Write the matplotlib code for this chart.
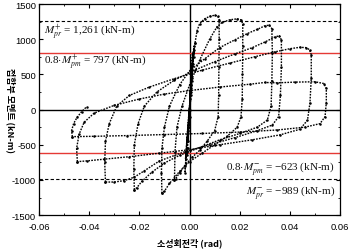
import matplotlib
matplotlib.use("Agg")
import matplotlib.pyplot as plt
from matplotlib.ticker import MultipleLocator

plt.rcParams['axes.unicode_minus'] = False
plt.rcParams['mathtext.fontset'] = 'stix'

# Reference moment levels (kN-m)
M_PR_POS = 1261
M_PM_POS = 797
M_PM_NEG = -623
M_PR_NEG = -989

# Hysteresis path, split into cycles
# small elastic cycles (dense band at zero rotation)
cyc0_rot = [0, 0.0003, 0.0006, 0.0002, -0.0003, -0.0006, -0.0002, 0.0004, 0.0009, 0.0012,
            0.0006, -0.0002, -0.0008, -0.0011, -0.0004, 0.0006, 0.0014, 0.0018, 0.0010, 0.0,
            -0.0010, -0.0016, -0.0008, 0.0004, 0.0012, 0.0017, 0.0008, -0.0004, -0.0012,
            -0.0018, -0.0010, 0.0004, 0.0016, 0.0022]
cyc0_mom = [0, 250, 450, 150, -250, -450, -150, 300, 650, 800,
            350, -150, -550, -650, -200, 350, 800, 900, 450, -100,
            -550, -700, -300, 250, 650, 850, 400, -200, -600,
            -900, -400, 200, 750, 950]

cyc1_rot = [0.0022, 0.003, 0.004, 0.006, 0.008, 0.010, 0.0112, 0.0118, 0.0118, 0.0117, 0.0116,
            0.0114, 0.010, 0.007, 0.004, 0.001, -0.002, -0.004, -0.0055, -0.006]
cyc1_mom = [950, 1120, 1220, 1290, 1325, 1340, 1330, 1280, 1000, 600, 200,
            -100, -300, -450, -580, -680, -800, -900, -980, -1000]

cyc2_rot = [-0.006, -0.0058, -0.005, -0.003, 0.0, 0.004, 0.008, 0.011, 0.013, 0.016, 0.019,
            0.0205, 0.0212, 0.0212, 0.0211, 0.021, 0.0205, 0.019, 0.015, 0.010, 0.005, 0.0,
            -0.004, -0.008, -0.010, -0.011]
cyc2_mom = [-1000, -600, -250, 50, 350, 700, 1000, 1180, 1240, 1275, 1290,
            1275, 1220, 900, 500, 150, -100, -250, -380, -500, -620, -740,
            -880, -1050, -1160, -1190]

cyc3_rot = [-0.011, -0.0112, -0.011, -0.010, -0.008, -0.004, 0.0, 0.006, 0.012, 0.018, 0.023,
            0.027, 0.030, 0.0318, 0.0328, 0.033, 0.0328, 0.0325, 0.031, 0.027, 0.020, 0.012,
            0.004, -0.004, -0.010, -0.015, -0.019, -0.021, -0.022]
cyc3_mom = [-1190, -900, -550, -250, 50, 350, 550, 720, 880, 990, 1080,
            1140, 1190, 1200, 1150, 800, 400, 50, -150, -250, -340, -430,
            -540, -650, -760, -890, -1020, -1110, -1140]

cyc4_rot = [-0.022, -0.0222, -0.022, -0.0205, -0.018, -0.013, -0.006, 0.002, 0.010, 0.018,
            0.025, 0.030, 0.034, 0.0358, 0.0366, 0.0366, 0.0362, 0.0355, 0.033, 0.027, 0.018,
            0.008, -0.002, -0.012, -0.018, -0.022, -0.026, -0.030, -0.0335]
cyc4_mom = [-1140, -850, -500, -200, 50, 250, 420, 560, 680, 790,
            880, 960, 1030, 1050, 990, 600, 200, -100, -220, -300, -400,
            -500, -600, -730, -870, -960, -1010, -1030, -1030]

cyc5_rot = [-0.0335, -0.0338, -0.0335, -0.032, -0.029, -0.024, -0.016, -0.006, 0.005, 0.016,
            0.026, 0.034, 0.040, 0.044, 0.0465, 0.0478, 0.0485, 0.0485, 0.048, 0.047, 0.044,
            0.036, 0.025, 0.012, 0.0, -0.012, -0.024, -0.034, -0.041, -0.0447]
cyc5_mom = [-1030, -750, -450, -200, 50, 200, 320, 440, 560, 660,
            750, 820, 865, 885, 880, 850, 780, 450, 100, -150, -280,
            -360, -430, -500, -570, -620, -670, -705, -730, -740]

cyc6_rot = [-0.0447, -0.045, -0.044, -0.042, -0.038, -0.030, -0.020, -0.010, 0.0, 0.012,
            0.024, 0.030, 0.035, 0.042, 0.050, 0.0535, 0.0545, 0.0545, 0.054, 0.052, 0.046,
            0.035, 0.020, 0.005, -0.010, -0.025, -0.038, -0.0467]
cyc6_mom = [-740, -550, -350, -180, -50, 60, 150, 220, 270, 320,
            360, 385, 380, 390, 395, 370, 300, 100, -100, -200, -250,
            -290, -320, -340, -355, -370, -380, -385]

cyc7_rot = [-0.0467, -0.047, -0.0462, -0.0448, -0.043, -0.041]
cyc7_mom = [-385, -300, -200, -110, -30, 40]

cycles = [(cyc0_rot, cyc0_mom), (cyc1_rot, cyc1_mom), (cyc2_rot, cyc2_mom),
          (cyc3_rot, cyc3_mom), (cyc4_rot, cyc4_mom), (cyc5_rot, cyc5_mom),
          (cyc6_rot, cyc6_mom), (cyc7_rot, cyc7_mom)]

fig = plt.figure(figsize=(3.51, 2.51), dpi=100)
ax = fig.add_axes([0.111, 0.139, 0.858, 0.841])

# axes through origin
ax.axhline(0, color='black', lw=1.0, zorder=1)
ax.axvline(0, color='black', lw=1.0, zorder=1)

# reference lines
ax.axhline(M_PR_POS, color='black', lw=0.8, ls=(0, (3, 2)), zorder=1)
ax.axhline(M_PR_NEG, color='black', lw=0.8, ls=(0, (3, 2)), zorder=1)
ax.axhline(M_PM_POS, color='#e53935', lw=1.0, zorder=1)
ax.axhline(M_PM_NEG, color='#e53935', lw=1.0, zorder=1)

for rot, mom in cycles:
    ax.plot(rot, mom, color='black', lw=1.0, ls=(0, (1.2, 0.9)),
            marker='o', ms=1.8, mew=0, zorder=2)

ax.set_xlim(-0.06, 0.06)
ax.set_ylim(-1500, 1500)
ax.xaxis.set_major_locator(MultipleLocator(0.02))
ax.xaxis.set_minor_locator(MultipleLocator(0.01))
ax.yaxis.set_major_locator(MultipleLocator(500))
ax.yaxis.set_minor_locator(MultipleLocator(250))
ax.set_xticklabels([f"{v:.2f}" for v in ax.get_xticks()])
ax.tick_params(which='both', direction='in', top=True, right=True, labelsize=6.8)
ax.tick_params(axis='x', pad=5)
ax.tick_params(axis='y', pad=2)
ax.tick_params(which='major', length=3)
ax.tick_params(which='minor', length=1.5)
for lab in ax.get_xticklabels() + ax.get_yticklabels():
    lab.set_family('Liberation Sans')
for sp in ax.spines.values():
    sp.set_linewidth(0.9)

ser = dict(family='Liberation Serif', fontsize=8, color='#111111')
ax.text(-0.058, 1114, r"$M^{+}_{pr}$ = 1,261 (kN-m)", ha='left', va='center', **ser)
ax.text(-0.058, 686, r"0.8$\cdot M^{+}_{pm}$ = 797 (kN-m)", ha='left', va='center', **ser)
ax.text(0.058, -829, r"0.8$\cdot M^{-}_{pm}$ = −623 (kN-m)", ha='right', va='center', **ser)
ax.text(0.058, -1171, r"$M^{-}_{pr}$ = −989 (kN-m)", ha='right', va='center', **ser)

fig.text(0.541, 0.03, "소성회전각 (rad)", ha='center', va='center',
         family=['Noto Sans CJK KR', 'DejaVu Sans'], fontsize=6.5, fontweight='bold')
fig.text(0.03, 0.56, "접합부 모멘트 (kN-m)", ha='center', va='center', rotation=270,
         family=['Noto Sans CJK KR', 'DejaVu Sans'], fontsize=6.5, fontweight='bold')

fig.savefig("out.png", dpi=100)
